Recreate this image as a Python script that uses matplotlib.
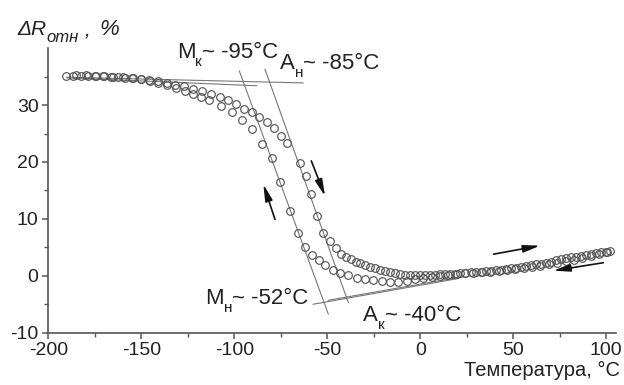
import matplotlib
matplotlib.use("Agg")
import matplotlib.pyplot as plt
from matplotlib.transforms import IdentityTransform

plt.rcParams['font.family'] = ['Liberation Sans', 'DejaVu Sans']
plt.rcParams['axes.unicode_minus'] = False

# Heating run (temperature rising), °C and relative resistance change, %
T_heat = [-190.5, -186.5, -182.5, -178.5, -174.5, -170.5, -166.5, -162.5, -158.5, -154.5,
          -150.3, -145.7, -141.0, -136.4, -131.9, -126.8, -122.0, -117.3, -112.5, -107.7,
          -103.2, -99.0, -94.8, -90.6, -86.6, -82.6, -78.8, -75.1, -71.4, -64.9,
          -61.3, -58.7, -55.4, -52.2, -48.8, -45.5, -42.5, -39.8, -37.2, -34.8,
          -32.3, -29.7, -27.1, -24.4, -21.7, -19.0, -16.3, -13.6, -10.9, -8.2,
          -5.5, -2.8, 0.0, 2.7, 5.4, 8.1, 10.8, 13.5, 16.2, 18.9,
          21.6, 24.3, 27.0, 29.7, 32.4, 35.1, 37.8, 40.5, 43.2, 45.9,
          48.6, 51.3, 54.0, 56.7, 59.4, 62.1, 64.8, 67.5, 70.2, 72.9,
          75.6, 78.3, 81.0, 83.7, 86.4, 89.1, 91.8, 94.5, 97.2, 99.9, 102.0]
R_heat = [35.2, 35.2, 35.2, 35.15, 35.1, 35.05, 35.0, 34.95, 34.85, 34.75,
          34.6, 34.4, 34.2, 33.8, 33.5, 33.3, 32.9, 32.4, 31.9, 31.45,
          30.85, 30.15, 29.3, 28.75, 27.95, 27.05, 25.95, 24.6, 23.3, 19.9,
          17.5, 14.3, 10.5, 7.6, 6.1, 4.8, 3.9, 3.3, 2.9, 2.5,
          2.2, 1.9, 1.6, 1.3, 1.0, 0.8, 0.6, 0.45, 0.32, 0.22,
          0.15, 0.12, 0.12, 0.14, 0.17, 0.2, 0.23, 0.27, 0.32, 0.38,
          0.45, 0.52, 0.58, 0.66, 0.74, 0.83, 0.92, 1.01, 1.1, 1.2,
          1.32, 1.45, 1.58, 1.72, 1.86, 2.0, 2.15, 2.32, 2.5, 2.7,
          2.88, 3.05, 3.22, 3.38, 3.55, 3.7, 3.85, 4.0, 4.12, 4.25, 4.35]

# Cooling run (temperature falling)
T_cool = [100.6, 96.1, 91.6, 87.1, 82.6, 78.1, 73.6, 69.1, 64.6, 60.1,
          55.6, 51.1, 46.6, 42.1, 37.6, 33.1, 28.6, 24.1, 19.6, 15.1,
          10.6, 6.1, 1.6, -2.8, -7.3, -11.8, -16.3, -20.8, -25.3, -29.7,
          -34.2, -38.7, -43.2, -46.9, -51.0, -54.6, -58.2, -61.8, -65.6, -70.1,
          -75.4, -80.0, -85.3, -90.6, -95.8, -101.5, -107.3, -113.4, -118.0, -122.4,
          -126.5, -131.5, -136.2, -141.0, -145.5, -150.0, -155.0, -160.0, -165.0, -170.0,
          -175.0, -180.0, -185.0]
R_cool = [4.15, 3.85, 3.5, 3.15, 2.85, 2.55, 2.28, 2.02, 1.78, 1.56,
          1.36, 1.18, 1.02, 0.88, 0.75, 0.63, 0.52, 0.42, 0.3, 0.12,
          -0.05, -0.18, -0.4, -0.65, -0.88, -1.05, -1.05, -1.0, -0.75, -0.58,
          -0.3, 0.1, 0.5, 1.1, 1.95, 2.75, 3.65, 5.1, 7.6, 11.4,
          16.4, 20.7, 23.2, 25.8, 27.3, 28.7, 29.9, 30.9, 31.5, 32.0,
          32.5, 33.0, 33.5, 33.9, 34.2, 34.5, 34.7, 34.9, 35.0, 35.1,
          35.2, 35.25, 35.3]

# Tangent construction lines: (x0, y0, x1, y1)
tangents = [
    (-190.0, 34.9, -63.0, 33.9),    # high-temperature plateau, heating
    (-190.0, 34.8, -88.0, 33.4),    # high-temperature plateau, cooling
    (-97.3, 36.0, -49.5, -6.7),     # steep branch, cooling
    (-83.5, 36.3, -38.7, -4.7),     # steep branch, heating
    (-57.6, -5.0, 20.0, -0.5),      # low plateau, cooling
    (-49.5, -4.3, 22.0, -0.2),      # low plateau, heating
]

# Direction arrows: (tail_x, tail_y, head_x, head_y)
arrows = [
    (-78.1, 9.9, -84.4, 16.1),
    (-58.6, 20.2, -51.2, 14.0),
    (39.4, 3.8, 64.4, 5.3),
    (98.4, 2.3, 71.5, 0.9),
]

# Transformation temperature labels: (x, y baseline, main letter, subscript, rest)
point_labels = [
    (-131.0, 38.3, "M", "к", "~ -95°C"),
    (-75.4, 36.3, "A", "н", "~ -85°C"),
    (-115.8, -5.0, "M", "н", "~ -52°C"),
    (-30.6, -7.9, "A", "к", "~ -40°C"),
]

x_ticks = [-200, -150, -100, -50, 0, 50, 100]
y_ticks = [-10, 0, 10, 20, 30]
x_limits = (-200, 105)
y_limits = (-10, 40)

TXT = '#222222'
GRAY = '#555555'

fig = plt.figure(figsize=(6.24, 3.85), dpi=100)
ax = fig.add_axes([48.3 / 624, 52.3 / 385, 567.3 / 624, 284.5 / 385])

for x0, y0, x1, y1 in tangents:
    ax.plot([x0, x1], [y0, y1], color='#777777', lw=0.8, zorder=2)

ax.plot(T_heat, R_heat, ls='none', marker='o', ms=5.5, mfc='none',
        mec=GRAY, mew=0.85, zorder=3)
ax.plot(T_cool, R_cool, ls='none', marker='o', ms=5.5, mfc='none',
        mec=GRAY, mew=0.85, zorder=3)

for tx, ty, hx, hy in arrows:
    ax.annotate('', xy=(hx, hy), xytext=(tx, ty),
                arrowprops=dict(arrowstyle='-|>,head_length=1.0,head_width=0.22',
                                color='#111111', lw=1.2, shrinkA=0, shrinkB=0),
                zorder=4)

ax.set_xticks(x_ticks)
ax.set_yticks(y_ticks)
ax.set_xticks([t + 25 for t in x_ticks if t + 25 <= x_limits[1]], minor=True)
ax.set_yticks([t + 5 for t in y_ticks if t + 5 <= y_limits[1]], minor=True)
ax.set_xlim(*x_limits)
ax.set_ylim(*y_limits)
for s in ('top', 'right'):
    ax.spines[s].set_visible(False)
for s in ('left', 'bottom'):
    ax.spines[s].set_color('#555555')
    ax.spines[s].set_linewidth(1.2)
ax.tick_params(which='major', direction='out', length=4.5, width=1.1,
               color='#555555', labelsize=14, labelcolor=TXT, pad=2.5)
ax.tick_params(which='minor', direction='out', length=3, width=1.0, color='#555555')

fig.canvas.draw()
renderer = fig.canvas.get_renderer()


def pieces_text(X, Y, pieces):
    """Draw consecutive text pieces in display pixels, each after the previous."""
    for s, size, dy, dx, style in pieces:
        X += dx
        t = fig.text(X, Y + dy, s, transform=IdentityTransform(), fontsize=size,
                     style=style, ha='left', va='baseline', color=TXT)
        X = t.get_window_extent(renderer).x1


for x, y, main, sub, rest in point_labels:
    X, Y = ax.transData.transform((x, y))
    pieces_text(X, Y, [(main, 16, 0, 0, 'normal'),
                       (sub, 11, -8, 0, 'normal'),
                       (rest, 16, 0, 0, 'normal')])

# y-axis title
pieces_text(17, 385 - 35, [("ΔR", 15, 0, 0, 'italic'),
                           ("отн", 12, -7, 0, 'italic'),
                           (",", 15, 0, 6, 'italic'),
                           ("%", 16, 0, 9, 'italic')])

fig.text(620 / 624, 9 / 385, "Температура, °C", ha='right', va='baseline',
         fontsize=14.5, color=TXT)

fig.savefig('out.png', dpi=100, facecolor='white')
